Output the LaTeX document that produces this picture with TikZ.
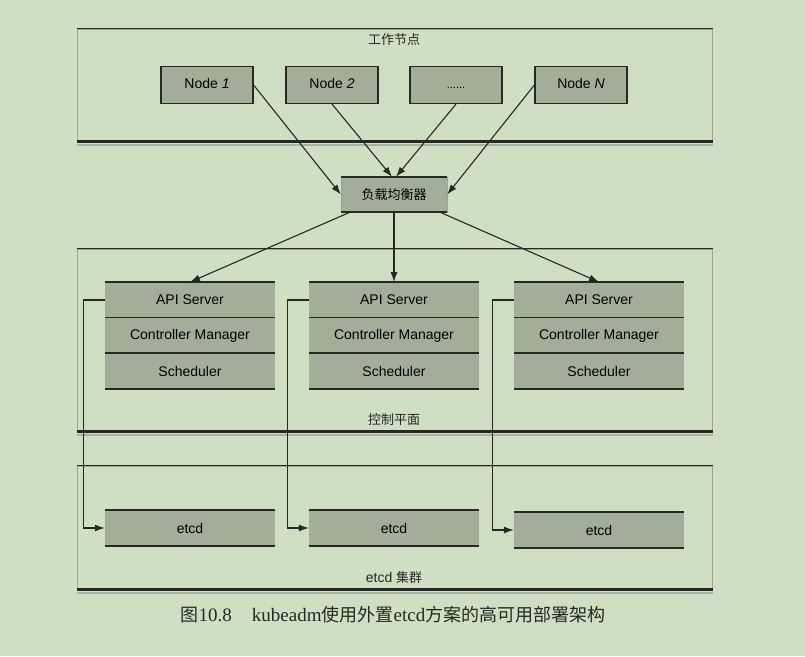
\documentclass[tikz,border=0pt]{standalone}
\usepackage{fontspec}
\setmainfont{Liberation Sans}
\newfontfamily\cjk{Noto Sans CJK SC}
\newfontfamily\capserif{Liberation Serif}
\usetikzlibrary{arrows.meta, positioning}
\definecolor{cbg}{HTML}{CEDFC4}
\definecolor{cbox}{HTML}{A3AE9A}
\definecolor{cline}{HTML}{252823}
\definecolor{cside}{HTML}{9EA39A}
\definecolor{cshade}{HTML}{A7B19F}

\begin{document}
\begin{tikzpicture}[
  x=1pt, y=-1pt,
  font=\fontsize{14}{16}\selectfont,
  panel/.style={draw=cside, line width=1pt, inner sep=0pt,
                minimum width=635pt},
  nodebox/.style={draw=cline, fill=cbox, line width=1.2pt, inner sep=0pt,
                  minimum width=92pt, minimum height=37pt,
                  text height=10pt, text depth=3pt},
  slab/.style={fill=cbox, inner sep=0pt, minimum width=170pt, minimum height=35.5pt},
  lbbox/.style={draw=cside, fill=cbox, inner sep=0pt,
                minimum width=106pt, minimum height=35pt},
  rule/.style={draw=cline, line width=1.6pt},
  edge/.style={draw=cline, line width=1.2pt},
  thick edge/.style={draw=cline, line width=2.6pt},
  flow/.style={-{Latex[length=10pt, width=7pt]}, line width=1.1pt, draw=cline},
  tag/.style={text=cline, inner sep=0pt}
]
\useasboundingbox[fill=cbg] (0,0) rectangle (805,656);

% panels
\node[panel, minimum height=112pt] (work) at (394.5,85) {};
\node[panel, minimum height=182pt] (ctrl) at (394.5,340) {};
\node[panel, minimum height=123pt] (etcdp) at (394.5,527.5) {};
\foreach \p in {work, ctrl, etcdp} {
  \draw[cshade, line width=2pt] ([yshift=-3pt]\p.south west) -- ([yshift=-3pt]\p.south east);
  \draw[edge] (\p.north west) -- (\p.north east);
  \draw[thick edge] (\p.south west) -- (\p.south east);
}
\node[tag, font=\cjk\fontsize{13}{15}\selectfont] (worklbl) at (394,40) {工作节点};
\node[tag, font=\cjk\fontsize{13}{15}\selectfont] (ctrllbl) at (394,420) {控制平面};
\node[tag] (etcdlbl) at (394,578) {etcd {\cjk\fontsize{13}{15}\selectfont 集群}};

% worker nodes
\node[nodebox] (n1) at (207,85) {Node \textit{1}};
\node[nodebox] (n2) at (332,85) {Node \textit{2}};
\node[nodebox] (n3) at (456,85) {\fontsize{11}{13}\selectfont......};
\node[nodebox] (nN) at (581,85) {Node \textit{N}};

% load balancer
\node[lbbox] (lb) at (394,194.5) {\cjk\fontsize{13}{15}\selectfont 负载均衡器};
\draw[rule] (lb.north west) -- (lb.north east);
\draw[rule] (lb.south west) -- (lb.south east);

\draw[flow] (n1.east) -- (lb.west);
\draw[flow] (n2.south) -- ([xshift=-2pt]lb.north);
\draw[flow] (n3.south) -- ([xshift=2pt]lb.north);
\draw[flow] (nN.west) -- (lb.east);

% masters
\foreach \i/\cx in {1/190, 2/394, 3/599} {
  \node[slab] (api\i) at (\cx,300) {API Server};
  \node[slab] (cm\i) at (\cx,335.5) {Controller Manager};
  \node[slab] (sch\i) at (\cx,371) {Scheduler};
  \draw[rule] (api\i.north west) -- (api\i.north east);
  \draw[rule] (cm\i.north west) -- (cm\i.north east);
  \draw[rule] (sch\i.north west) -- (sch\i.north east);
  \draw[rule] (sch\i.south west) -- (sch\i.south east);
}
\draw[flow] ([xshift=-44pt]lb.south) -- (api1.north);
\draw[flow] (lb.south) -- (api2.north);
\draw[flow] ([xshift=46pt]lb.south) -- (api3.north);

% etcd members
\node[slab, minimum height=36pt] (etcd1) at (190,528) {etcd};
\node[slab, minimum height=36pt] (etcd2) at (394,528) {etcd};
\node[slab, minimum height=36pt] (etcd3) at (599,530) {etcd};
\foreach \i in {1,2,3} {
  \draw[rule] (etcd\i.north west) -- (etcd\i.north east);
  \draw[rule] (etcd\i.south west) -- (etcd\i.south east);
  \draw[flow] (api\i.west) -- ++(-21,0) |- (etcd\i.west);
}

% caption
\node[tag, font=\capserif\fontsize{19}{22}\selectfont] (cap) at (393,615)
  {{\cjk\fontsize{18}{22}\selectfont 图}10.8\hspace{20pt}kubeadm{\cjk\fontsize{18}{22}\selectfont 使用外置}etcd{\cjk\fontsize{18}{22}\selectfont 方案的高可用部署架构}};
\end{tikzpicture}
\end{document}
